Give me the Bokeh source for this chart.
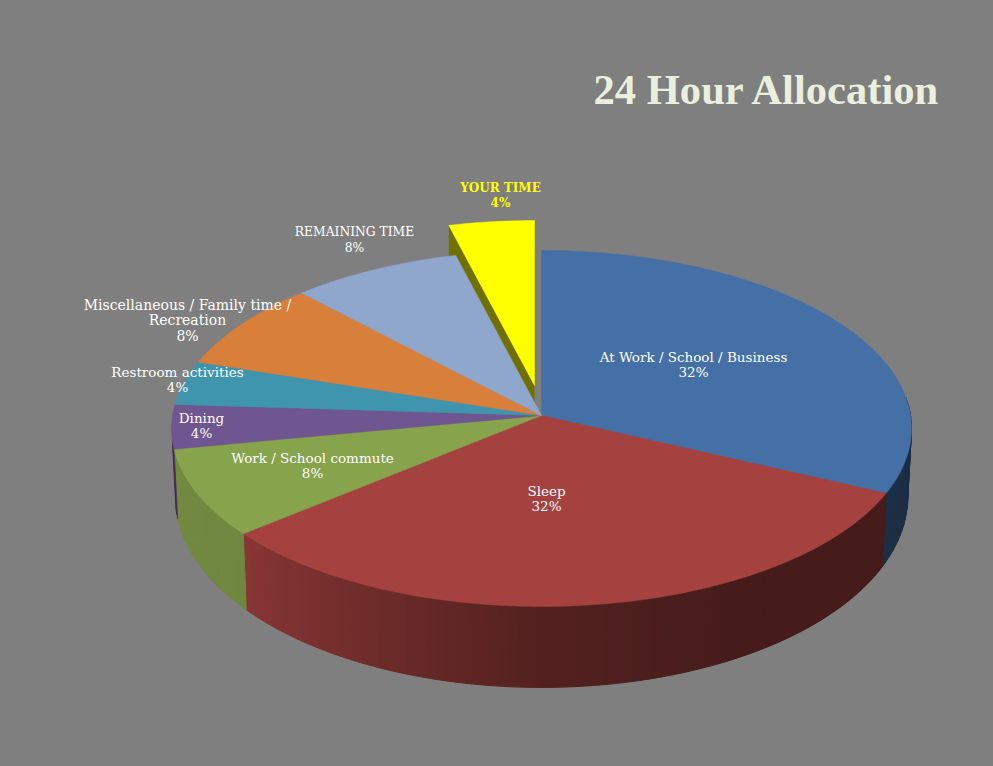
import numpy as np
from bokeh.plotting import figure
from bokeh.models import Range1d, ColumnDataSource
from bokeh.embed import file_html
from bokeh.resources import INLINE
from bokeh.core.properties import value

# ---- data -----------------------------------------------------------------
categories = ["At Work / School / Business", "Sleep", "Work / School commute", "Dining",
              "Restroom activities", "Miscellaneous / Family time /\nRecreation",
              "REMAINING TIME", "YOUR TIME"]
percent = [32, 32, 8, 4, 4, 8, 8, 4]
colors = ["#4470A6", "#A5423F", "#87A34C", "#6F5690", "#3F95AD", "#D87F3B", "#8FA6CD", "#FFFF00"]

# ---- layout ---------------------------------------------------------------
label_xy = [(693, 356), (546, 490), (312, 457), (201, 417), (177, 371), (187, 304), (354, 231.5), (500, 187)]
label_px = [13.5, 13.5, 13.5, 13.5, 13.5, 14, 12.3, 12]
CX, CY, A, B, K = 541.0, 415.0, 369.0, 177.0, 0.073
EXPLODE = (-7.0, -30.0)
BG = "#7f7f7f"

def top_xy(theta_deg, r=1.0):
    t = np.radians(theta_deg)
    u, v = r * np.sin(t), r * np.cos(t)
    d = 1 + K * v
    return CX + A * u / d, CY - B * v / d

def depth(theta_deg):
    return 67 - 14 * np.cos(np.radians(theta_deg))

def bottom_xy(theta_deg):
    x, y = top_xy(theta_deg)
    return CX + (x - CX) * 0.99, y + depth(theta_deg)

def shade(hex_color, f):
    rgb = [int(hex_color[i:i + 2], 16) for i in (1, 3, 5)]
    return "#%02x%02x%02x" % tuple(int(round(c * f)) for c in rgb)

shade_theta = [80, 115, 150, 180, 200, 230, 232, 259, 261, 280]
shade_fac = [.42, .42, .42, .50, .63, .82, .83, .85, .55, .55]

p = figure(width=977, height=750, output_backend="svg", toolbar_location=None,
           x_range=Range1d(0, 977), y_range=Range1d(750, 0),
           x_axis_location=None, y_axis_location=None, min_border=0,
           background_fill_color=BG, border_fill_color=BG, outline_line_color=None)
p.grid.visible = False

edges = np.concatenate([[0], np.cumsum(percent)]) * 3.6

# side walls, front half of the disc, back to front
wx, wy, wc = [], [], []
for i in range(7):
    lo, hi = max(edges[i], 84.0), min(edges[i + 1], 262.0)
    if hi <= lo:
        continue
    steps = max(2, int((hi - lo) / 1.5))
    ths = np.linspace(lo, hi, steps + 1)
    for a, b in zip(ths[:-1], ths[1:]):
        xa, ya = top_xy(a); xb, yb = top_xy(b)
        xc, yc = bottom_xy(b); xd, yd = bottom_xy(a)
        wx.append([xa, xb, xc, xd]); wy.append([ya, yb, yc, yd])
        wc.append(shade(colors[i], float(np.interp((a + b) / 2, shade_theta, shade_fac))))
p.patches(xs="x", ys="y", fill_color="c", line_color="c", line_width=1,
          source=ColumnDataSource(dict(x=wx, y=wy, c=wc)))

# exploded slice: its cut face, then its top
ex, ey = EXPLODE
lo, hi = edges[7], edges[8]
rx, ry = top_xy(lo)
p.patch([rx + ex, CX + ex, CX + ex, rx + ex],
        [ry + ey, CY + ey, CY + ey + depth(lo), ry + ey + depth(lo)],
        fill_color=shade(colors[7], 0.44), line_color=None)
ths = np.linspace(lo, hi, 30)
xs, ys = top_xy(ths)
p.patch(np.r_[CX, xs] + ex, np.r_[CY, ys] + ey, fill_color=colors[7], line_color=colors[7], line_width=0.5)

# top faces of the seated slices
for i in range(7):
    ths = np.linspace(edges[i], edges[i + 1], max(8, int(percent[i] * 3)))
    xs, ys = top_xy(ths)
    p.patch(np.r_[CX, xs], np.r_[CY, ys], fill_color=colors[i], line_color=colors[i], line_width=0.5)

# labels
for i, (cat, (lx, ly)) in enumerate(zip(categories, label_xy)):
    lines = cat.split("\n") + [f"{percent[i]}%"]
    last = i == 7
    for j, line in enumerate(lines):
        p.text([lx], [ly + j * 15.5], text=[line], text_align="center", text_baseline="middle",
               text_font=value("DejaVu Serif"), text_font_size=f"{label_px[i]}px",
               text_font_style="bold" if last else "normal",
               text_color="#FFFF00" if last else "#FFFFFF")

p.text([593], [89], text=["24 Hour Allocation"], text_align="left", text_baseline="middle",
       text_font=value("Liberation Serif"), text_font_size="42.6px", text_font_style="bold",
       text_color="#EBF0DE")

html = file_html(p, INLINE)
html = html.replace("</head>", f"<style>html,body{{background:{BG};overflow:hidden}}</style></head>", 1)
open("out.html", "w").write(html)
